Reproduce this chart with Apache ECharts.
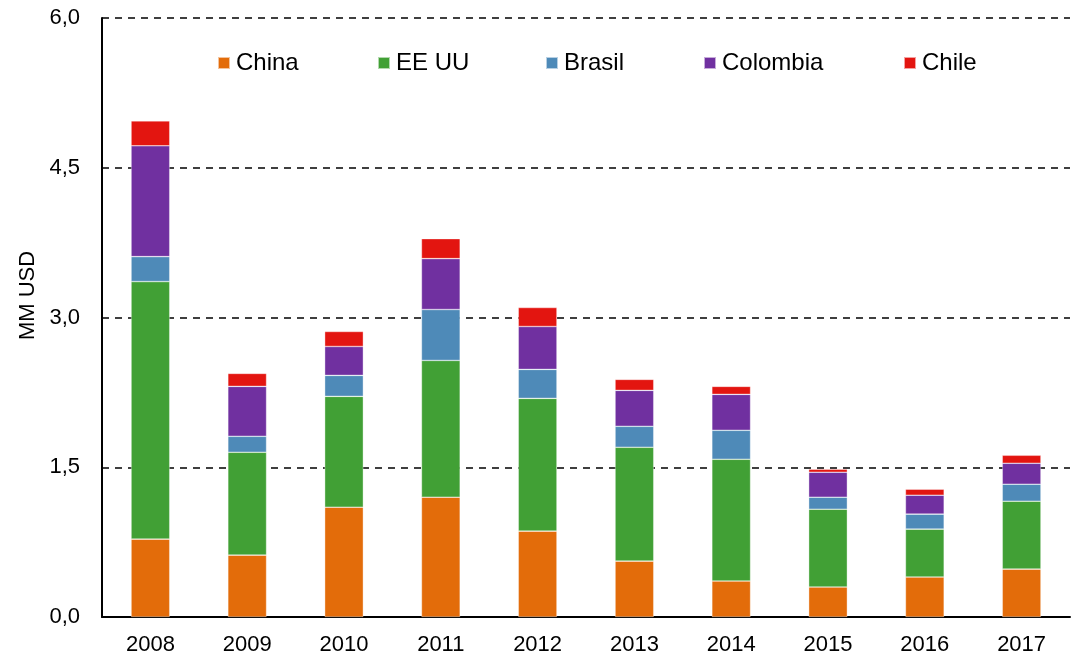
<!DOCTYPE html>
<html>
<head>
<meta charset="utf-8">
<script src="https://cdn.jsdelivr.net/npm/echarts@6/dist/echarts.min.js"></script>
<style>
  html, body { margin: 0; padding: 0; background: #fff; }
  #chart { width: 1076px; height: 658px; }
</style>
</head>
<body>
<div id="chart"></div>
<script>
// 数据
const years = ['2008', '2009', '2010', '2011', '2012', '2013', '2014', '2015', '2016', '2017']
const china    = [0.78, 0.62, 1.10, 1.20, 0.86, 0.56, 0.36, 0.30, 0.40, 0.48]
const eeuu     = [2.58, 1.03, 1.11, 1.37, 1.33, 1.14, 1.22, 0.78, 0.48, 0.68]
const brasil   = [0.25, 0.16, 0.21, 0.51, 0.29, 0.21, 0.29, 0.12, 0.15, 0.17]
const colombia = [1.11, 0.50, 0.29, 0.51, 0.43, 0.36, 0.36, 0.25, 0.19, 0.21]
const chile    = [0.25, 0.13, 0.15, 0.20, 0.19, 0.11, 0.08, 0.03, 0.06, 0.08]
const yTicks = [0, 1.5, 3, 4.5, 6]

const chart = echarts.init(document.getElementById('chart'))

const font = 'Liberation Sans, Arial, sans-serif'

const mkSeries = (name, data, color) => ({
  name: name,
  type: 'bar',
  stack: 'total',
  barWidth: '40%',
  data: data,
  itemStyle: { color: color, borderColor: 'rgba(255,255,255,0.6)', borderWidth: 0.6 }
})

// 图例位置
const legendPos = [
  { name: 'China', left: 217 },
  { name: 'EE UU', left: 377 },
  { name: 'Brasil', left: 545 },
  { name: 'Colombia', left: 703 },
  { name: 'Chile', left: 903 }
]

const option = {
  animation: false,
  textStyle: { fontFamily: font },
  legend: legendPos.map(l => ({
    data: [l.name],
    left: l.left,
    top: 51,
    padding: 0,
    icon: 'rect',
    itemWidth: 12,
    itemHeight: 12,
    itemGap: 0,
    textStyle: { fontSize: 24, color: '#000', fontFamily: font, padding: [0, 0, 0, 1] }
  })),
  grid: { left: 102, right: 6, top: 18, bottom: 41 },
  xAxis: {
    type: 'category',
    data: years,
    axisLine: { lineStyle: { color: '#000', width: 2 } },
    axisTick: { show: false },
    axisLabel: { fontSize: 22, color: '#000', margin: 17 }
  },
  yAxis: {
    type: 'value',
    min: yTicks[0],
    max: yTicks[yTicks.length - 1],
    interval: 1.5,
    name: 'MM USD',
    nameLocation: 'middle',
    nameGap: 58,
    nameTextStyle: { fontSize: 22, color: '#000', padding: [0, 0, 0, 44] },
    axisLine: { show: true, lineStyle: { color: '#000', width: 2 } },
    axisTick: { show: false },
    axisLabel: {
      fontSize: 22,
      color: '#000',
      margin: 22,
      formatter: v => v.toFixed(1).replace('.', ',')
    },
    splitLine: { lineStyle: { color: '#000', type: [7, 6], width: 1.5 } }
  },
  series: [
    mkSeries('China', china, '#E36C0A'),
    mkSeries('EE UU', eeuu, '#41A035'),
    mkSeries('Brasil', brasil, '#4E8AB8'),
    mkSeries('Colombia', colombia, '#7030A0'),
    mkSeries('Chile', chile, '#E31510')
  ]
}

chart.setOption(option)
</script>
</body>
</html>
